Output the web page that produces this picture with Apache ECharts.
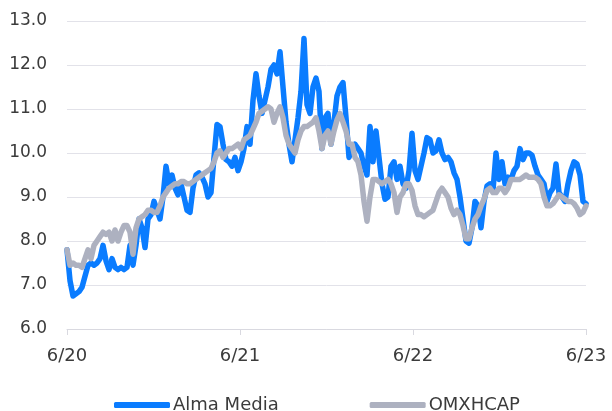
<!DOCTYPE html>
<html>
<head>
<meta charset="utf-8">
<script src="https://cdn.jsdelivr.net/npm/echarts@6/dist/echarts.min.js"></script>
<style>
  html, body { margin: 0; padding: 0; background: #fff; }
  #chart { width: 612px; height: 411px; }
</style>
</head>
<body>
<div id="chart"></div>
<script>
// roughly weekly readings, jun 2020 -> jun 2023
const tickLabels = ["6/20", "6/21", "6/22", "6/23"];

const almaMedia = [
  7.8, 7.1, 6.75, 6.8, 6.85, 6.95, 7.2, 7.45, 7.5, 7.45,
  7.5, 7.6, 7.9, 7.55, 7.35, 7.6, 7.4, 7.35, 7.4, 7.35,
  7.4, 7.9, 7.45, 7.9, 8.5, 8.3, 7.85, 8.5, 8.6, 8.9,
  8.7, 8.5, 9.0, 9.7, 9.3, 9.5, 9.2, 9.05, 9.3, 9.0,
  8.7, 8.65, 9.2, 9.5, 9.55, 9.45, 9.3, 9.0, 9.1, 9.9,
  10.65, 10.6, 10.2, 9.85, 9.8, 9.7, 9.9, 9.6, 9.8, 10.1,
  10.6, 10.2, 11.2, 11.8, 11.3, 10.9, 11.2, 11.5, 11.9, 12.0,
  11.8, 12.3, 11.5, 10.7, 10.2, 9.8, 10.3, 10.8, 11.4, 12.6,
  11.1, 10.9, 11.5, 11.7, 11.4, 10.1, 10.8, 10.9, 10.2, 10.7,
  11.3, 11.5, 11.6, 10.8, 9.9, 10.1, 10.2, 10.1, 10.0, 9.7,
  9.5, 10.6, 9.8, 10.5, 9.9, 9.3, 8.95, 9.0, 9.7, 9.8,
  9.4, 9.7, 9.3, 9.2, 9.6, 10.45, 9.6, 9.4, 9.7, 10.0,
  10.35, 10.3, 10.0, 10.05, 10.3, 10.0, 9.85, 9.9, 9.8, 9.55,
  9.4, 9.0, 8.5, 8.0, 7.95, 8.3, 8.9, 8.8, 8.3, 8.9,
  9.25, 9.3, 9.15, 10.0, 9.4, 9.8, 9.3, 9.45, 9.4, 9.6,
  9.7, 10.1, 9.85, 10.0, 10.0, 9.95, 9.7, 9.5, 9.4, 9.3,
  8.9, 9.1, 9.2, 9.75, 9.1, 9.0, 8.9, 9.3, 9.6, 9.8,
  9.75, 9.5, 8.9, 8.85
];

const omxhcap = [
  7.8, 7.45, 7.5, 7.45, 7.45, 7.4, 7.6, 7.8, 7.6, 7.9,
  8.0, 8.1, 8.2, 8.15, 8.2, 8.0, 8.25, 8.0, 8.2, 8.35,
  8.35, 8.2, 7.7, 8.3, 8.5, 8.55, 8.6, 8.7, 8.7, 8.65,
  8.65, 8.8, 9.0, 9.1, 9.2, 9.25, 9.3, 9.3, 9.35, 9.35,
  9.3, 9.3, 9.35, 9.4, 9.45, 9.5, 9.55, 9.6, 9.65, 9.8,
  10.0, 10.05, 9.9, 10.0, 10.1, 10.1, 10.15, 10.2, 10.1, 10.3,
  10.35, 10.4, 10.55, 10.7, 10.9, 10.95, 11.0, 11.05, 11.0, 10.7,
  10.9, 11.05, 10.8, 10.4, 10.2, 10.1, 10.0, 10.3, 10.5, 10.6,
  10.6, 10.65, 10.7, 10.8, 10.5, 10.1, 10.4, 10.5, 10.2, 10.5,
  10.75, 10.9, 10.7, 10.5, 10.2, 10.2, 9.9, 9.8, 9.5, 8.9,
  8.45, 9.0, 9.4, 9.4, 9.35, 9.3, 9.35, 9.4, 9.3, 9.1,
  8.65, 9.0, 9.1, 9.3, 9.3, 9.15, 8.8, 8.6, 8.6, 8.55,
  8.6, 8.65, 8.7, 8.9, 9.1, 9.2, 9.1, 9.0, 8.75, 8.6,
  8.7, 8.6, 8.35, 8.05, 8.05, 8.3, 8.5, 8.6, 8.8, 8.95,
  9.15, 9.2, 9.1, 9.1, 9.2, 9.2, 9.1, 9.2, 9.4, 9.4,
  9.4, 9.4, 9.45, 9.5, 9.45, 9.45, 9.45, 9.4, 9.3, 9.0,
  8.8, 8.8, 8.85, 8.95, 9.05, 9.0, 8.95, 8.9, 8.9, 8.85,
  8.75, 8.6, 8.65, 8.8
];

const lastIdx = almaMedia.length - 1;
const step = lastIdx / (tickLabels.length - 1);
const font = "DejaVu Sans";
const textColor = "#3b3b3b";

const chart = echarts.init(document.getElementById("chart"), null, { renderer: "canvas" });

const option = {
  backgroundColor: "#fff",
  animation: false,
  grid: { left: 67, right: 26, top: 21, bottom: 82 },
  legend: {
    left: 109,
    top: 391,
    itemWidth: 56,
    itemHeight: 6,
    itemGap: 91,
    icon: "roundRect",
    textStyle: { fontFamily: font, fontSize: 18, color: textColor, padding: [0, 0, 0, -2] },
    data: ["Alma Media", "OMXHCAP"]
  },
  xAxis: {
    type: "value",
    min: 0,
    max: lastIdx,
    interval: step,
    axisLine: { lineStyle: { color: "#d9d9e0", width: 1 } },
    axisTick: { show: true, length: 6, lineStyle: { color: "#d9d9e0" } },
    splitLine: { show: false },
    axisLabel: {
      margin: 18,
      fontFamily: font,
      fontSize: 18,
      color: textColor,
      formatter: (v) => tickLabels[Math.round(v / step)] || ""
    }
  },
  yAxis: {
    type: "value",
    min: 6,
    max: 13,
    interval: 1,
    axisLine: { show: false },
    axisTick: { show: false },
    splitLine: { lineStyle: { color: "#e2e2e9", width: 1 } },
    axisLabel: {
      margin: 20,
      fontFamily: font,
      fontSize: 17,
      color: textColor,
      formatter: (v) => v.toFixed(1)
    }
  },
  series: [
    {
      name: "Alma Media",
      type: "line",
      data: almaMedia.map((v, i) => [i, v]),
      showSymbol: false,
      color: "#0a7cff",
      lineStyle: { width: 5.5, cap: "round", join: "round" }
    },
    {
      name: "OMXHCAP",
      type: "line",
      data: omxhcap.map((v, i) => [i, v]),
      showSymbol: false,
      color: "#adb1c0",
      lineStyle: { width: 5.5, cap: "round", join: "round" }
    }
  ]
};

chart.setOption(option);
</script>
</body>
</html>
